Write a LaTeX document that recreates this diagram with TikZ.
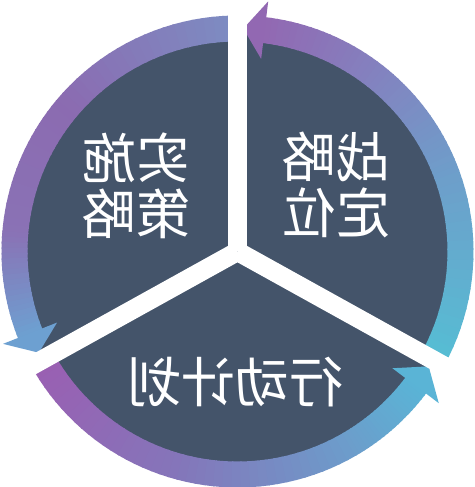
\documentclass[tikz,border=0pt]{standalone}
\usepackage{fontspec}
\usepackage{graphicx}
\newfontfamily\cjk{Noto Sans CJK SC}
\definecolor{slate}{HTML}{44546A}
\definecolor{R0}{HTML}{55BED4}
\definecolor{R1}{HTML}{6E9ECA}
\definecolor{R2}{HTML}{8284C0}
\definecolor{R3}{HTML}{9268B2}
\definecolor{L0}{HTML}{7D8CC2}
\definecolor{L1}{HTML}{8B6BB1}
\definecolor{L2}{HTML}{8A72B5}
\definecolor{L3}{HTML}{6DA0D1}
\definecolor{B0}{HTML}{9A5FB2}
\definecolor{B1}{HTML}{8476BA}
\definecolor{B2}{HTML}{6C9DCB}
\definecolor{B3}{HTML}{5AB4D6}
\def\rin{210}
\def\rout{236}
\newcommand\gradarc[4]{%
  \pgfmathsetmacro\gstep{(#2-#1)/20}%
  \foreach \k in {0,...,19}{%
    \pgfmathsetmacro\aa{#1+\k*\gstep}%
    \pgfmathsetmacro\bb{\aa+\gstep+0.4}%
    \pgfmathsetmacro\pp{100-(\k+0.5)*5}%
    \fill[color=#3!\pp!#4] (\aa:\rin) arc[start angle=\aa,end angle=\bb,radius=\rin]
      -- (\bb:\rout) arc[start angle=\bb,end angle=\aa,radius=\rout] -- cycle;
  }%
}
\tikzset{
  txt/.style={text=white, font=\cjk\fontsize{54}{56}\selectfont, align=center, inner sep=0pt},
  gapline/.style={white, line width=19pt}
}
\begin{document}
\begin{tikzpicture}[x=1pt,y=1pt]
\useasboundingbox (0,0) rectangle (474,487);
\fill[white] (0,0) rectangle (474,487);
\coordinate (c) at (237.5,235.5);
\fill[slate] (c) circle[radius=225];
\begin{scope}[shift={(237.5,235.5)}]
  % right segment (tail lower right, head at top)
  \gradarc{331}{380}{R0}{R1}
  \gradarc{380}{410}{R1}{R2}
  \gradarc{410}{443.3}{R2}{R3}
  \fill[R3] (83:194) -- (83:252) -- (88.5:223) -- cycle;
  % left segment (tail top, head lower left)
  \gradarc{91}{140}{L0}{L1}
  \gradarc{140}{175}{L1}{L2}
  \gradarc{175}{201.8}{L2}{L3}
  \fill[L3] (201.5:194) -- (201.5:252) -- (207:223) -- cycle;
  % bottom segment (tail lower left, head lower right)
  \gradarc{210.5}{255}{B0}{B1}
  \gradarc{255}{300}{B1}{B2}
  \gradarc{300}{323.3}{B2}{B3}
  \fill[B3] (323:194) -- (323:252) -- (329:223) -- cycle;
\end{scope}
\foreach \a/\n in {90/g1,209/g2,331/g3}{
  \coordinate (\n) at ([shift={(\a:300)}]c);
  \draw[gapline] (c) -- (\n);
}
\node[txt] (t1) at (336,302.5) {\reflectbox{战略}\\\reflectbox{定位}};
\node[txt] (t2) at (136.5,301.5) {\reflectbox{实施}\\\reflectbox{策略}};
\node[txt] (t3) at (235,104.5) {\reflectbox{行动计划}};
\end{tikzpicture}
\end{document}
